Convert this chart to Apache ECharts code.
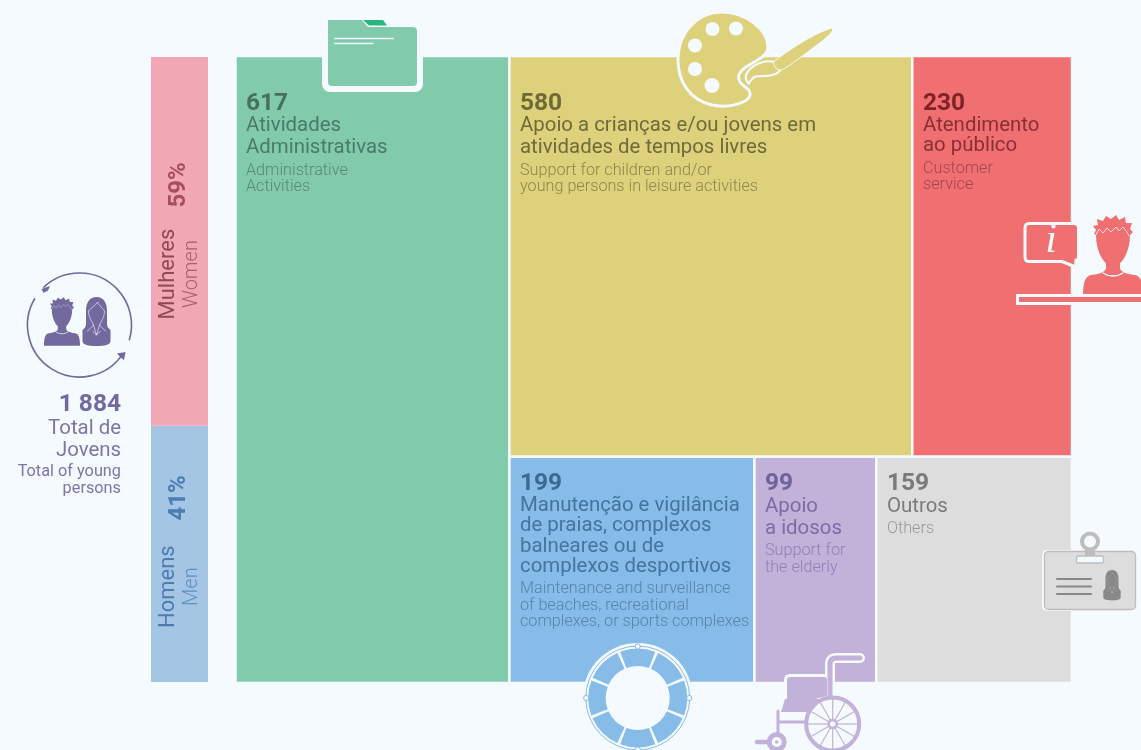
<!DOCTYPE html>
<html>
<head>
<meta charset="utf-8">
<style>
  html, body { margin: 0; padding: 0; background: #f5fafe; }
  #chart { width: 1141px; height: 750px; }
</style>
<script src="https://cdn.jsdelivr.net/npm/echarts@6/dist/echarts.min.js"></script>
</head>
<body>
<div id="chart"></div>
<script>
const totalYoung = 1884
const totalLabel = '1 884'
const genderNames = ['Mulheres', 'Homens']
const genderNamesEn = ['Women', 'Men']
const genderShares = [59, 41]

// treemap values: one left column, then a top row and a bottom row
const leftColumn = [617]
const topRow = [580, 230]
const bottomRow = [199, 99, 159]
const tileValues = [617, 580, 230, 199, 99, 159]
const tileNames = [
  ['Atividades', 'Administrativas'],
  ['Apoio a crianças e/ou jovens em', 'atividades de tempos livres'],
  ['Atendimento', 'ao público'],
  ['Manutenção e vigilância', 'de praias, complexos', 'balneares ou de', 'complexos desportivos'],
  ['Apoio', 'a idosos'],
  ['Outros']
]
const tileNamesEn = [
  ['Administrative', 'Activities'],
  ['Support for children and/or', 'young persons in leisure activities'],
  ['Customer', 'service'],
  ['Maintenance and surveillance', 'of beaches, recreational', 'complexes, or sports complexes'],
  ['Support for', 'the elderly'],
  ['Others']
]

const BG = '#f5fafe'
const FONT = 'Roboto'
const tileColors = ['#81cbac', '#ded17c', '#f06f71', '#87bce8', '#c2b1d9', '#dddddd']
const numColors = ['#47705f', '#6e6a33', '#7f2226', '#3c6a91', '#6f6399', '#7a7a7a']
const ptColors = ['#4a7a68', '#6e6a3a', '#8a2f33', '#44749f', '#7a6da5', '#7a7a7a']
const enColors = ['#568874', '#8d8748', '#a0474b', '#5584ad', '#8f82b8', '#999999']
const genderColors = ['#f2a8b4', '#a5c5e5']
const PURPLE = '#726a9f'

// text rows in each tile, pixels from the tile's top edge
const tileTextRows = [
  { num: 44, pt: [66, 88], en: [111, 127] },
  { num: 44, pt: [66, 88], en: [111, 127] },
  { num: 44, pt: [66, 86], en: [109, 125] },
  { num: 23, pt: [45, 65, 86, 106], en: [128, 145, 161] },
  { num: 23, pt: [46, 68], en: [90, 107] },
  { num: 23, pt: [46], en: [68] }
]

function sum (arr) {
  return arr.reduce((a, b) => a + b, 0)
}

// [x0, x1, y0, y1, tile index], everything in "young persons" units
function makeTiles () {
  const rest = totalYoung - leftColumn[0]
  const split = rest * sum(bottomRow) / (sum(topRow) + sum(bottomRow))
  const out = [[0, leftColumn[0], 0, rest, 0]]
  let x = leftColumn[0]
  topRow.forEach((v, i) => {
    const w = rest * v / sum(topRow)
    out.push([x, x + w, split, rest, i + 1])
    x += w
  })
  x = leftColumn[0]
  bottomRow.forEach((v, i) => {
    const w = rest * v / sum(bottomRow)
    out.push([x, x + w, 0, split, i + 3])
    x += w
  })
  return out
}

function txt (text, x, y, size, weight, color, extra) {
  return Object.assign({
    type: 'text',
    x: x,
    y: y,
    style: {
      text: text,
      fontFamily: FONT,
      fontSize: size,
      fontWeight: weight,
      fill: color,
      align: 'left',
      verticalAlign: 'middle'
    }
  }, extra || {})
}

function renderTile (params, api) {
  const i = api.value(4)
  const p0 = api.coord([api.value(0), api.value(3)])
  const p1 = api.coord([api.value(1), api.value(2)])
  const children = [{
    type: 'rect',
    shape: { x: p0[0], y: p0[1], width: p1[0] - p0[0], height: p1[1] - p0[1] },
    style: { fill: tileColors[i], stroke: BG, lineWidth: 2.5 }
  }]
  const left = Math.ceil(p0[0] + 10)
  const top = p0[1] + 4
  const rows = tileTextRows[i]
  children.push(txt(String(tileValues[i]), left, top + rows.num, 24.5, 700, numColors[i]))
  tileNames[i].forEach((line, k) => {
    children.push(txt(line, left, top + rows.pt[k], 20.4, 400, ptColors[i]))
  })
  tileNamesEn[i].forEach((line, k) => {
    children.push(txt(line, left, top + rows.en[k], 16.2, 300, enColors[i]))
  })
  return { type: 'group', children: children }
}

function path (d, fill, stroke, lineWidth, x, y, scale) {
  return {
    type: 'path',
    x: x || 0,
    y: y || 0,
    scaleX: scale || 1,
    scaleY: scale || 1,
    shape: { pathData: d },
    style: { fill: fill || 'none', stroke: stroke || 'none', lineWidth: lineWidth || 0, lineJoin: 'round', lineCap: 'round' }
  }
}

function circle (cx, cy, r, fill, stroke, lineWidth) {
  return {
    type: 'circle',
    shape: { cx: cx, cy: cy, r: r },
    style: { fill: fill || 'none', stroke: stroke || 'none', lineWidth: lineWidth || 0 }
  }
}

// head centre at 0,0
const MAN = 'M-17 -8L-19 -9L-17 -13L-20 -17L-15 -18L-16 -24L-10 -22L-7 -27L-2 -24L3 -28L6 -23L12 -26L13 -20L19 -20L17 -14L20 -11L17 -8' +
  'C17 8 10 18 7 20L7 25C7 28 12 31 22 32C28 33 30 40 30 53L-30 53C-30 40 -28 33 -22 32C-12 31 -7 28 -7 25L-7 20C-10 18 -17 8 -17 -8Z'
const MAN_HAIR = 'M-17 -8L-14 -14L-10 -10L-6 -15L-2 -11L3 -16L6 -12L10 -16L14 -11L16 -7'
const MAN_COLLAR = 'M-10 30C-4 34 4 34 10 30'
const WOMAN = 'M0 -16C8 -16 10.5 -9 10.5 -2L10.5 11C10.5 14 12 15 14 17L14 28C14 32 8 33 0 33C-8 33 -14 32 -14 28L-14 17C-12 15 -10.5 14 -10.5 11L-10.5 -2C-10.5 -9 -8 -16 0 -16Z'
const WOMAN_FACE = 'M-8 -2C-5 -6 -1 -7 1 -11C3 -7 6 -5 8 -2C8 5 4 9 3 12C5 15 8 16 9 18M-8 -2C-8 5 -4 9 -3 12C-5 15 -8 16 -9 18M-3 12L0 22L3 12M0 22L-4 18M0 22L4 18'

function usersIcon () {
  const cx = 79.5
  const cy = 325
  const r = 52
  const rad = d => d * Math.PI / 180
  return [
    { type: 'arc', shape: { cx: cx, cy: cy, r: r, startAngle: rad(226), endAngle: rad(377), clockwise: true }, style: { fill: 'none', stroke: PURPLE, lineWidth: 1.6 } },
    { type: 'arc', shape: { cx: cx, cy: cy, r: r, startAngle: rad(33), endAngle: rad(211), clockwise: true }, style: { fill: 'none', stroke: PURPLE, lineWidth: 1.6 } },
    path('M41.5 289L50 286L48 290.5L43.5 293Z', PURPLE),
    path('M125.5 352L117 353.5L120.5 357.5L124 360Z', PURPLE),
    path(MAN, PURPLE, null, 0, 62, 314, 0.6),
    path(MAN_HAIR, 'none', BG, 0.5, 62, 314, 0.6),
    path(MAN_COLLAR, 'none', BG, 1.2, 62, 314, 0.6),
    path(WOMAN, PURPLE, null, 0, 96.5, 313),
    path(WOMAN_FACE, 'none', BG, 0.6, 96.5, 313)
  ]
}

function folderIcon () {
  return [
    path('M328 20L362 20L368 27L412 27Q417 27 417 31L417 83Q417 87 412 87L332 87Q328 87 328 83Z', '#81cbac', BG, 0),
    { type: 'rect', shape: { x: 322, y: 57, width: 101, height: 35, r: [0, 0, 8, 8] }, style: { fill: BG } },
    { type: 'rect', shape: { x: 328, y: 57, width: 89, height: 29, r: [0, 0, 4, 4] }, style: { fill: '#81cbac' } },
    path('M363 20L383 20L387 25.5L369 25.5Z', '#2bb57e'),
    path('M335 38.5L393 38.5M335 43.5L373 43.5', 'none', BG, 1.6)
  ]
}

function paletteIcon () {
  const blob = 'M722 12C746 12 768 30 768 47C768 57 756 60 746 67C737 73 736 80 744 86C752 91 752 97 745 101C735 106 722 107 712 105C690 100 678 82 678 60C678 32 698 12 722 12Z'
  const handle = 'M774 62C790 50 815 33 832 28.5C834 31 826 38 815 46C804 54 793 63 783 69C778 71 774 67 774 62Z'
  return [
    path(blob, '#ded17c', BG, 3),
    circle(712.5, 29, 7, BG),
    circle(736, 28.5, 7, BG),
    circle(695, 45.5, 7, BG),
    circle(695, 69, 7, BG),
    circle(712, 85.5, 7.5, BG),
    path('M774 62C766 60 756 63 750 69C745 74 744 79 749 84C752 76 756 76 765 76C773 76 780 73 781 68Z', '#ded17c', BG, 2),
    path(handle, '#ded17c', BG, 1.6),
    path(handle, '#ded17c')
  ]
}

function infoIcon () {
  const red = tileColors[2]
  return [
    path('M1029 223.5L1074 223.5Q1078.5 223.5 1078.5 228L1078.5 256Q1078.5 260.5 1076 260L1075.5 267L1062 261.5L1029 261.5Q1025 261.5 1025 257L1025 228Q1025 223.5 1029 223.5Z', red, BG, 3),
    {
      type: 'text',
      x: 1051,
      y: 241,
      style: { text: 'i', fontFamily: 'Liberation Serif', fontStyle: 'italic', fontSize: 42, fill: BG, align: 'center', verticalAlign: 'middle' }
    },
    path(MAN, red, null, 0, 1113, 243),
    path(MAN_HAIR, 'none', BG, 0.8, 1113, 243),
    path(MAN_COLLAR, 'none', BG, 1.5, 1113, 243),
    { type: 'rect', shape: { x: 1016, y: 294, width: 125, height: 11 }, style: { fill: BG } },
    { type: 'rect', shape: { x: 1019, y: 297, width: 122, height: 5 }, style: { fill: red } }
  ]
}

function ringIcon () {
  const cx = 637.7
  const cy = 698
  const blue = tileColors[3]
  const out = [
    circle(cx, cy, 55, BG),
    circle(cx, cy, 52, 'none', blue, 1)
  ]
  for (let k = 0; k < 8; k++) {
    const a0 = (k * 45 - 67.5 + 1.8) * Math.PI / 180
    const a1 = (k * 45 - 22.5 - 1.8) * Math.PI / 180
    out.push({
      type: 'sector',
      shape: { cx: cx, cy: cy, r0: 32, r: 49.5, startAngle: a0, endAngle: a1, clockwise: true },
      style: { fill: blue }
    })
  }
  ;[[0, -51.5], [51.5, 0], [-51.5, 0], [0, 51.5]].forEach(d => {
    out.push(circle(cx + d[0], cy + d[1], 2.6, BG, blue, 1))
  })
  return out
}

function wheelchairIcon () {
  const c = tileColors[4]
  const hx = 832.7
  const hy = 724
  const out = [
    // light halo where the chair stands on the tile
    path('M860 658L836 658Q830 658 830 664L830 682', 'none', BG, 10),
    path('M787 682L787 680Q787 677 790 677L824 677Q827 677 827 680L827 682', 'none', BG, 6),
    path('M860 658L836 658Q830 658 830 664L830 702', 'none', c, 5),
    path('M790 677L824 677Q827 677 827 680L827 696L815 699L787 699L787 680Q787 677 790 677Z', c),
    path('M785 699L830 699L834 704L834 712L781 712Z', c),
    path('M778 711L778 734M778 722L812 722', 'none', c, 3),
    path('M757 742L768 742', 'none', c, 4.5),
    circle(776.7, 742, 7.5, BG, c, 5),
    circle(776.7, 742, 1.8, c),
    circle(hx, hy, 26.5, BG, c, 4)
  ]
  for (let k = 0; k < 12; k++) {
    const a = k * 30 * Math.PI / 180
    out.push({
      type: 'line',
      shape: { x1: hx + 4 * Math.cos(a), y1: hy + 4 * Math.sin(a), x2: hx + 26 * Math.cos(a), y2: hy + 26 * Math.sin(a) },
      style: { stroke: c, lineWidth: 1.2 }
    })
  }
  out.push(circle(hx, hy, 4, BG, c, 2.5))
  return out
}

function badgeIcon () {
  const edge = '#bdbdbd'
  const dark = '#888888'
  return [
    { type: 'rect', shape: { x: 1042, y: 550, width: 95, height: 61, r: 5 }, style: { fill: BG } },
    { type: 'rect', shape: { x: 1044.5, y: 551.5, width: 91, height: 58, r: 4 }, style: { fill: '#dddddd', stroke: edge, lineWidth: 1.3 } },
    { type: 'rect', shape: { x: 1085, y: 548, width: 10, height: 9 }, style: { fill: edge } },
    circle(1090, 541.5, 8, BG, edge, 4),
    { type: 'rect', shape: { x: 1076.5, y: 556, width: 27, height: 7, r: 2 }, style: { fill: BG, stroke: edge, lineWidth: 1.3 } },
    path('M1057 579L1091 579M1057 586.5L1091 586.5M1057 594L1091 594', 'none', dark, 2),
    path(WOMAN, dark, null, 0, 1112, 580, 0.62),
    path(WOMAN_FACE, 'none', '#bbbbbb', 0.5, 1112, 580, 0.62)
  ]
}

function sideLabels () {
  const right = 121
  const soft = '#7d75a8'
  const lines = [
    [totalLabel, 405, 24.5, 700, PURPLE],
    ['Total de', 429, 20.4, 400, soft],
    ['Jovens', 451, 20.4, 400, soft],
    ['Total of young', 472, 16.3, 400, soft],
    ['persons', 489, 16.3, 400, soft]
  ]
  const out = lines.map(l => {
    const t = txt(l[0], right, l[1], l[2], l[3], l[4])
    t.style.align = 'right'
    return t
  })
  const rot = { rotation: Math.PI / 2 }
  const darks = [['#a84e5f', '#8e4a55', '#a8606c'], ['#4b7db2', '#4b7db2', '#5f8fc0']]
  const nameY = [319.5, 628]
  const enY = [308, 606]
  const shareY = [207.5, 520.5]
  genderNames.forEach((n, i) => {
    out.push(txt(genderShares[i] + '%', 179, shareY[i], 24, 700, darks[i][0], rot))
    out.push(txt(n, 168, nameY[i], 22, 400, darks[i][1], rot))
    out.push(txt(genderNamesEn[i], 192, enY[i], 20, 300, darks[i][2], rot))
  })
  return out
}

function renderDecor () {
  return {
    type: 'group',
    children: [].concat(usersIcon(), folderIcon(), paletteIcon(), infoIcon(), ringIcon(), wheelchairIcon(), badgeIcon(), sideLabels())
  }
}

const chart = echarts.init(document.getElementById('chart'), null, { renderer: 'canvas' })
chart.setOption({
  backgroundColor: BG,
  animation: false,
  tooltip: { show: false },
  grid: [
    { left: 235.5, top: 56, width: 836.5, height: 627 },
    { left: 151, top: 57, width: 57, height: 625 }
  ],
  xAxis: [
    { type: 'value', gridIndex: 0, min: 0, max: totalYoung, show: false },
    { type: 'category', gridIndex: 1, data: ['share'], show: false }
  ],
  yAxis: [
    { type: 'value', gridIndex: 0, min: 0, max: totalYoung - leftColumn[0], show: false },
    { type: 'value', gridIndex: 1, min: 0, max: 100, show: false }
  ],
  series: [
    {
      type: 'bar',
      name: genderNames[1],
      xAxisIndex: 1,
      yAxisIndex: 1,
      stack: 'gender',
      barWidth: '100%',
      data: [genderShares[1]],
      itemStyle: { color: genderColors[1] }
    },
    {
      type: 'bar',
      name: genderNames[0],
      xAxisIndex: 1,
      yAxisIndex: 1,
      stack: 'gender',
      barWidth: '100%',
      data: [genderShares[0]],
      itemStyle: { color: genderColors[0] }
    },
    {
      type: 'custom',
      name: 'tiles',
      xAxisIndex: 0,
      yAxisIndex: 0,
      clip: false,
      encode: { x: [0, 1], y: [2, 3] },
      data: makeTiles(),
      renderItem: renderTile
    },
    {
      type: 'custom',
      name: 'decor',
      coordinateSystem: 'none',
      z: 10,
      silent: true,
      data: [0],
      renderItem: renderDecor
    }
  ]
})
</script>
</body>
</html>
